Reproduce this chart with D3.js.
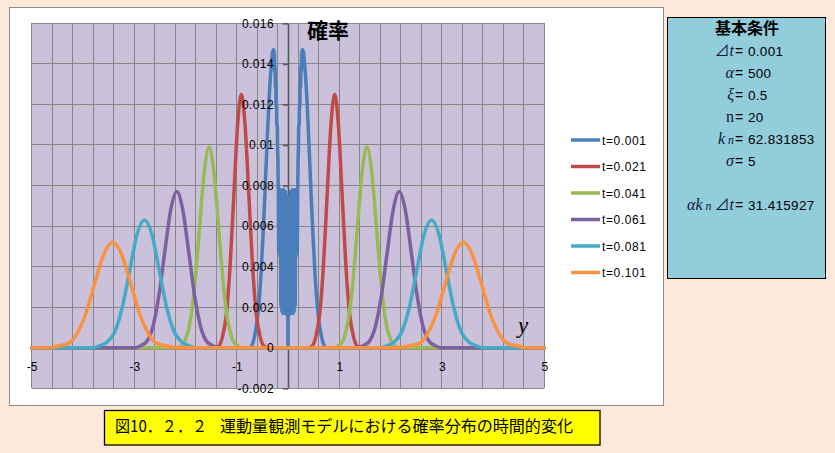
<!DOCTYPE html>
<html><head><meta charset="utf-8">
<script src="https://cdn.jsdelivr.net/npm/d3@7"></script>
<style>body{margin:0;background:#FDE9D9;} svg{display:block}</style>
</head><body><svg id="c" width="835" height="453"></svg>
<script>
// ---------- data ----------
const seriesNames = ["t=0.001","t=0.021","t=0.041","t=0.061","t=0.081","t=0.101"];
const xTicks = [-5,-3,-1,1,3,5];
const xTickLabels = ["-5","-3","-1","1","3","5"];
const yTicks = [-0.002,0,0.002,0.004,0.006,0.008,0.010,0.012,0.014,0.016];
const yTickLabels = ["-0.002","0","0.002","0.004","0.006","0.008","0.01","0.012","0.014","0.016"];

const t001 = [[-5,0],[-0.75,0],[-0.69,0.0002],[-0.65,0.0006],[-0.61,0.0012],[-0.57,0.0021],[-0.53,0.0035],[-0.49,0.0054],[-0.45,0.0076],[-0.41,0.0100],[-0.37,0.0122],[-0.33,0.0138],[-0.30,0.0146],[-0.28,0.0147],
 [-0.273,0.0140],[-0.266,0.0146],[-0.259,0.0136],[-0.252,0.0139],[-0.245,0.0128],[-0.238,0.0130],[-0.231,0.0118],[-0.224,0.0120],[-0.217,0.0109],[-0.21,0.0110],[-0.203,0.0098],[-0.196,0.0092],
 [-0.19,0.0078],[-0.18,0.0047],[-0.17,0.0077],[-0.16,0.0045],[-0.15,0.0078],[-0.14,0.0021],[-0.13,0.0076],[-0.12,0.0018],[-0.11,0.0077],[-0.10,0.0017],[-0.09,0.0078],[-0.08,0.0017],[-0.07,0.0076],[-0.06,0.0018],[-0.05,0.0077],[-0.04,0.0017],[-0.03,0.0075],[-0.02,0.0016],[-0.01,0.0074],
 [0,0.0001],
 [0.01,0.0074],[0.02,0.0016],[0.03,0.0075],[0.04,0.0017],[0.05,0.0077],[0.06,0.0018],[0.07,0.0076],[0.08,0.0017],[0.09,0.0078],[0.10,0.0017],[0.11,0.0077],[0.12,0.0018],[0.13,0.0076],[0.14,0.0021],[0.15,0.0078],[0.16,0.0045],[0.17,0.0077],[0.18,0.0047],[0.19,0.0078],
 [0.196,0.0092],[0.203,0.0098],[0.21,0.0110],[0.217,0.0109],[0.224,0.0120],[0.231,0.0118],[0.238,0.0130],[0.245,0.0128],[0.252,0.0139],[0.259,0.0136],[0.266,0.0146],[0.273,0.0140],
 [0.28,0.0147],[0.30,0.0146],[0.33,0.0138],[0.37,0.0122],[0.41,0.0100],[0.45,0.0076],[0.49,0.0054],[0.53,0.0035],[0.57,0.0021],[0.61,0.0012],[0.65,0.0006],[0.69,0.0002],[0.75,0],[5,0]];

const t021 = [[-5,0],[-1.42,0],[-1.345,0.0001],[-1.273,0.0006],[-1.20,0.0017],[-1.128,0.0041],[-1.055,0.0076],[-0.983,0.0110],[-0.91,0.0125],[-0.838,0.0110],[-0.765,0.0076],[-0.693,0.0041],[-0.62,0.0017],[-0.548,0.0006],[-0.475,0.0001],[-0.40,0],
 [0.40,0],[0.475,0.0001],[0.548,0.0006],[0.62,0.0017],[0.693,0.0041],[0.765,0.0076],[0.838,0.0110],[0.91,0.0125],[0.983,0.0110],[1.055,0.0076],[1.128,0.0041],[1.20,0.0017],[1.273,0.0006],[1.345,0.0001],[1.42,0],[5,0]];

const t041 = [[-5,0],[-2.184,0],[-2.092,0.0001],[-2.0,0.0004],[-1.908,0.0013],[-1.816,0.0032],[-1.724,0.0060],[-1.632,0.0087],[-1.54,0.0099],[-1.448,0.0087],[-1.356,0.0060],[-1.264,0.0032],[-1.172,0.0013],[-1.08,0.0004],[-0.988,0.0001],[-0.896,0],
 [0.896,0],[0.988,0.0001],[1.08,0.0004],[1.172,0.0013],[1.264,0.0032],[1.356,0.0060],[1.448,0.0087],[1.54,0.0099],[1.632,0.0087],[1.724,0.0060],[1.816,0.0032],[1.908,0.0013],[2.0,0.0004],[2.092,0.0001],[2.184,0],[5,0]];

const t061 = [[-5,0],[-2.993,0],[-2.875,0.0001],[-2.758,0.0003],[-2.64,0.0010],[-2.523,0.0025],[-2.405,0.0047],[-2.288,0.0068],[-2.17,0.0077],[-2.053,0.0068],[-1.935,0.0047],[-1.818,0.0025],[-1.70,0.0010],[-1.583,0.0003],[-1.465,0.0001],[-1.348,0],
 [1.348,0],[1.465,0.0001],[1.583,0.0003],[1.70,0.0010],[1.818,0.0025],[1.935,0.0047],[2.053,0.0068],[2.17,0.0077],[2.288,0.0068],[2.405,0.0047],[2.523,0.0025],[2.64,0.0010],[2.758,0.0003],[2.875,0.0001],[2.993,0],[5,0]];

const t081 = [[-5,0],[-3.808,0],[-3.664,0.0001],[-3.52,0.0003],[-3.376,0.0008],[-3.232,0.0020],[-3.088,0.0038],[-2.944,0.0056],[-2.80,0.0063],[-2.656,0.0056],[-2.512,0.0038],[-2.368,0.0020],[-2.224,0.0008],[-2.08,0.0003],[-1.936,0.0001],[-1.792,0],
 [1.792,0],[1.936,0.0001],[2.08,0.0003],[2.224,0.0008],[2.368,0.0020],[2.512,0.0038],[2.656,0.0056],[2.80,0.0063],[2.944,0.0056],[3.088,0.0038],[3.232,0.0020],[3.376,0.0008],[3.52,0.0003],[3.664,0.0001],[3.808,0],[5,0]];

const t101 = [[-5,0],[-4.638,0],[-4.464,0.0001],[-4.29,0.0002],[-4.116,0.0007],[-3.942,0.0017],[-3.768,0.0032],[-3.594,0.0046],[-3.42,0.0052],[-3.246,0.0046],[-3.072,0.0032],[-2.898,0.0017],[-2.724,0.0007],[-2.55,0.0002],[-2.376,0.0001],[-2.202,0],
 [2.202,0],[2.376,0.0001],[2.55,0.0002],[2.724,0.0007],[2.898,0.0017],[3.072,0.0032],[3.246,0.0046],[3.42,0.0052],[3.594,0.0046],[3.768,0.0032],[3.942,0.0017],[4.116,0.0007],[4.29,0.0002],[4.464,0.0001],[4.638,0],[5,0]];

const seriesData = [t001,t021,t041,t061,t081,t101];

const infoTitle = "基本条件";
const infoValues = ["0.001","500","0.5","20","62.831853","5","31.415927"];
const captionNo = "図10．２．２";
const captionText = "運動量観測モデルにおける確率分布の時間的変化";

// ---------- styles ----------
const colors = ["#4A7EBB","#BE4B48","#98B954","#7D60A0","#46AAC5","#F69240"];
const svg = d3.select("#c");
const sans = "'Liberation Sans', Arial, sans-serif";
const serif = "'Liberation Serif', 'Times New Roman', serif";
const cjk = "'Noto Sans CJK JP', sans-serif";

svg.append("rect").attr("width",835).attr("height",453).attr("fill","#FDE9D9");
svg.append("rect").attr("x",9.5).attr("y",7.5).attr("width",654).attr("height",398)
  .attr("fill","#fff").attr("stroke","#8c8c8c").attr("stroke-width",1);

const x = d3.scaleLinear().domain([-5,5]).range([31.7,544.3]);
const y = d3.scaleLinear().domain([-0.002,0.016]).range([388.3,23.3]);

// plot area
svg.append("rect").attr("x",x(-5)).attr("y",y(0.016)).attr("width",x(5)-x(-5)).attr("height",y(-0.002)-y(0.016))
  .attr("fill","#CCC1DA");
const grid = svg.append("g").attr("stroke","#878787").attr("stroke-width",1).attr("shape-rendering","crispEdges");
const vGrid = d3.range(0,26).map(k => -5 + 0.4*k);
grid.selectAll("line.v").data(vGrid).join("line").attr("class","v")
  .attr("x1",d=>x(d)).attr("x2",d=>x(d)).attr("y1",y(0.016)).attr("y2",y(-0.002));
grid.selectAll("line.h").data(yTicks).join("line").attr("class","h")
  .attr("y1",d=>y(d)).attr("y2",d=>y(d)).attr("x1",x(-5)).attr("x2",x(5));

// y axis (line + ticks) under series
const yAxisG = svg.append("g").attr("transform",`translate(${x(0)},0)`)
  .call(d3.axisLeft(y).tickValues(yTicks).tickSize(5).tickSizeOuter(0).tickFormat(""));
yAxisG.selectAll("path,line").attr("stroke","#595959").attr("stroke-width",1.6);

// x axis line
svg.append("line").attr("x1",x(-5)).attr("x2",x(5)).attr("y1",y(0)).attr("y2",y(0)).attr("stroke","#878787");

// series
const line = d3.line().x(d=>x(d[0])).y(d=>y(d[1])).curve(d3.curveMonotoneX);
svg.append("g").selectAll("path").data(seriesData).join("path")
  .attr("d",line).attr("fill","none").attr("stroke",(d,i)=>colors[i])
  .attr("stroke-width",3.5).attr("stroke-linejoin","round").attr("stroke-linecap","round");

// y labels on top
const yLab = svg.append("g").attr("transform",`translate(${x(0)},0)`)
  .call(d3.axisLeft(y).tickValues(yTicks).tickSize(0).tickPadding(14).tickFormat((d,i)=>yTickLabels[i]));
yLab.select(".domain").remove();
yLab.selectAll("text").attr("font-family",sans).attr("font-size",12).attr("fill","#000").attr("letter-spacing","0.4px");

// x labels
const xLab = svg.append("g").attr("transform",`translate(0,${y(0)})`)
  .call(d3.axisBottom(x).tickValues(xTicks).tickSize(0).tickPadding(15).tickFormat((d,i)=>xTickLabels[i]));
xLab.select(".domain").remove();
xLab.selectAll("text").attr("font-family",sans).attr("font-size",12).attr("fill","#000");

// title and y label
svg.append("text").attr("x",307).attr("y",37.5).attr("font-family",cjk).attr("font-weight","bold")
  .attr("font-size",21).text("確率");
svg.append("text").attr("x",518).attr("y",333).attr("font-family",serif).attr("font-style","italic")
  .attr("font-size",23).text("y");

// legend
const leg = svg.append("g");
seriesNames.forEach((n,i)=>{
  const ly = 140 + i*26.5;
  leg.append("line").attr("x1",571).attr("x2",600).attr("y1",ly).attr("y2",ly)
    .attr("stroke",colors[i]).attr("stroke-width",3.5);
  leg.append("text").attr("x",602).attr("y",ly+4.5).attr("font-family",sans).attr("font-size",12)
    .attr("letter-spacing","0.6px").text(n);
});

// info box
svg.append("rect").attr("x",667.5).attr("y",17.5).attr("width",158).attr("height",261)
  .attr("fill","#92CDDC").attr("stroke","#000").attr("stroke-width",1);
svg.append("text").attr("x",747).attr("y",34).attr("text-anchor","middle").attr("font-family",cjk)
  .attr("font-weight","bold").attr("font-size",16).text(infoTitle);

const symColor = "#14143c";
const infoLabels = [
  [{t:"⊿",f:cjk,s:15},{t:"t",f:serif,s:16,i:true}],
  [{t:"α",f:serif,s:16,i:true}],
  [{t:"ξ",f:serif,s:16,i:true}],
  [{t:"n",f:serif,s:16}],
  [{t:"k",f:serif,s:16,i:true},{t:" n",f:serif,s:12,i:true}],
  [{t:"σ",f:serif,s:16,i:true}],
  [{t:"α",f:serif,s:16,i:true},{t:"k",f:serif,s:16,i:true},{t:" n ",f:serif,s:12,i:true},{t:"⊿",f:cjk,s:15},{t:"t",f:serif,s:16,i:true}]
];
const infoY = [55.5,78,99.5,122,143.5,165.5,209.5];
infoLabels.forEach((parts,i)=>{
  const t = svg.append("text").attr("x",734).attr("y",infoY[i]).attr("text-anchor","end").attr("fill",symColor);
  parts.forEach(p=>{
    t.append("tspan").attr("font-family",p.f).attr("font-size",p.s)
      .attr("font-style",p.i?"italic":"normal").text(p.t);
  });
  svg.append("text").attr("x",735).attr("y",infoY[i]).attr("font-family",sans).attr("font-size",14).text("=");
  svg.append("text").attr("x",748).attr("y",infoY[i]).attr("font-family",sans).attr("font-size",13.5)
    .attr("letter-spacing","0.3px").text(infoValues[i]);
});

// caption
svg.append("rect").attr("x",104.5).attr("y",410.5).attr("width",495.5).attr("height",34.5)
  .attr("fill","#FFFF00").attr("stroke","#000").attr("stroke-width",1.3);
svg.append("text").attr("x",115).attr("y",432).attr("font-family",cjk).attr("font-size",16)
  .attr("textLength",92).attr("lengthAdjust","spacingAndGlyphs").text(captionNo);
svg.append("text").attr("x",220).attr("y",432).attr("font-family",cjk).attr("font-size",16)
  .attr("textLength",353).attr("lengthAdjust","spacingAndGlyphs").text(captionText);
</script></body></html>
